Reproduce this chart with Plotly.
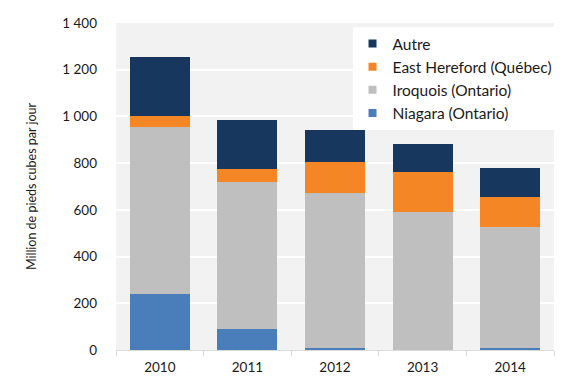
import plotly.graph_objects as go

years = ["2010", "2011", "2012", "2013", "2014"]
niagara = [240, 88, 7, 0, 7]
iroquois = [715, 632, 665, 592, 520]
east_hereford = [48, 53, 131, 171, 129]
autre = [253, 212, 139, 120, 122]

series = [
    ("Niagara (Ontario)", niagara, "#4A7EBB"),
    ("Iroquois (Ontario)", iroquois, "#BFBFBF"),
    ("East Hereford (Québec)", east_hereford, "#F58626"),
    ("Autre", autre, "#17375E"),
]

font_family = "Lato, DejaVu Sans, sans-serif"

fig = go.Figure()
for name, values, color in series:
    fig.add_trace(
        go.Bar(
            x=years,
            y=values,
            name=name,
            marker=dict(color=color, line=dict(width=0)),
            showlegend=False,
        )
    )

# small square legend markers, top series first
for name, values, color in reversed(series):
    fig.add_trace(
        go.Scatter(
            x=[None],
            y=[None],
            mode="markers",
            name=name,
            legendgroup=name,
            marker=dict(symbol="square", size=8, color=color),
        )
    )

# page body has an 8px margin, so margins are shifted to compensate
fig.update_layout(
    barmode="stack",
    bargap=0.315,
    width=580,
    height=392,
    separators=", ",
    font=dict(family=font_family, size=13, color="#1a1a1a"),
    plot_bgcolor="#F2F2F2",
    paper_bgcolor="white",
    margin=dict(l=108, r=34, t=15, b=50, autoexpand=False),
    legend=dict(
        traceorder="grouped",
        tracegroupgap=0,
        itemwidth=30,
        x=0.54,
        y=0.988,
        xanchor="left",
        yanchor="top",
        bgcolor="white",
        font=dict(size=15.5),
    ),
    showlegend=True,
)

fig.update_yaxes(
    range=[0, 1400],
    dtick=200,
    tickformat=",d",
    gridcolor="white",
    gridwidth=2,
    zeroline=False,
    showline=False,
    ticks="",
    automargin=False,
    ticklabelstandoff=18,
    tickfont=dict(size=13.5),
    title=dict(text="Million de pieds cubes par jour", font=dict(size=12.5), standoff=22),
)

fig.update_xaxes(
    showline=True,
    linecolor="#D9D9D9",
    linewidth=1,
    ticks="outside",
    tickson="boundaries",
    ticklen=5,
    tickcolor="#D9D9D9",
    showgrid=False,
    automargin=False,
    ticklabelstandoff=5,
    tickfont=dict(size=13.5),
)

fig.write_html("out.html")
